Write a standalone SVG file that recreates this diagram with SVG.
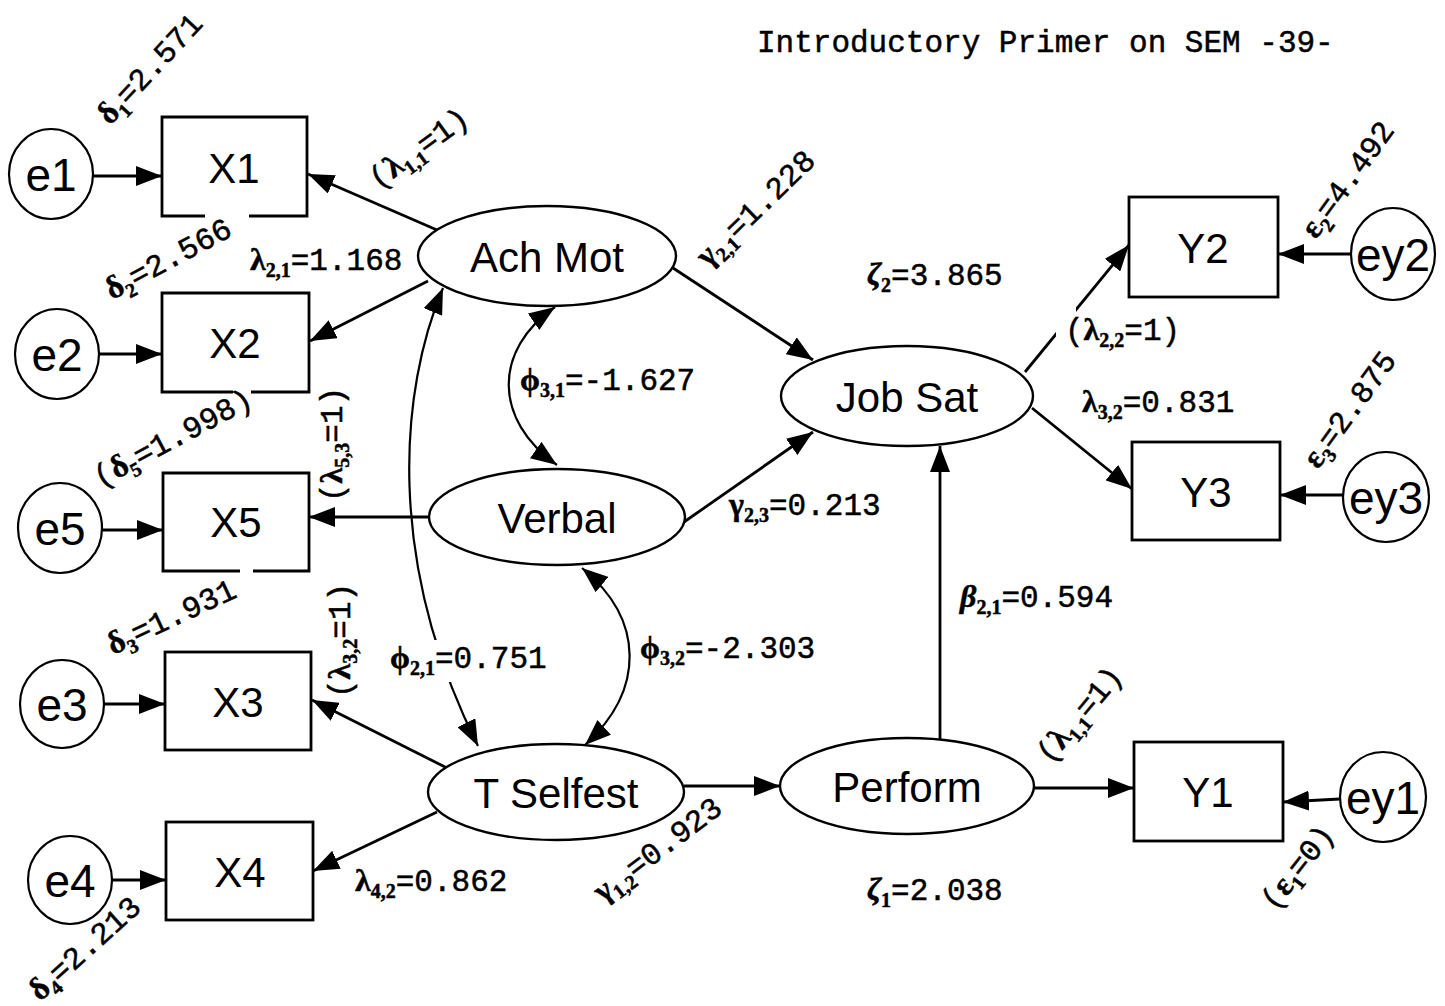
<svg xmlns="http://www.w3.org/2000/svg" width="1445" height="1006" viewBox="0 0 1445 1006">
  <style>
    .box { fill: none; stroke: #000; stroke-width: 2.8; }
    .lat { fill: #fff; stroke: #000; stroke-width: 2.4; }
    .err { fill: #fff; stroke: #000; stroke-width: 2.2; }
    .nl { font-family: "Liberation Sans", Arial, sans-serif; font-size: 42px; text-anchor: middle; fill: #000; }
    .el { font-family: "Liberation Sans", Arial, sans-serif; font-size: 46px; text-anchor: middle; fill: #000; }
    .cn { fill: none; stroke: #000; stroke-width: 2.8; marker-end: url(#ah); }
    .cov { fill: none; stroke: #000; stroke-width: 2.2; marker-start: url(#ah); marker-end: url(#ah); }
    .lb { font-family: "Liberation Mono", "Courier New", monospace; font-size: 31px; fill: #000; stroke: #000; stroke-width: 0.5; }
    .g { font-family: "Liberation Serif", "DejaVu Serif", serif; font-weight: bold; font-size: 32px; }
    .s { font-family: "Liberation Serif", "DejaVu Serif", serif; font-weight: bold; font-size: 20px; }
    .title { font-family: "Liberation Mono", "Courier New", monospace; font-size: 31px; fill: #000; stroke: #000; stroke-width: 0.5; }
  </style>
  <defs>
    <marker id="ah" viewBox="0 0 26 20" refX="26" refY="10" markerWidth="26" markerHeight="20" markerUnits="userSpaceOnUse" orient="auto-start-reverse">
      <path d="M0,0 L26,10 L0,20 z" fill="#000"/>
    </marker>
    <!-- breaks in lines where a label sits on top of them -->
    <mask id="gaps" maskUnits="userSpaceOnUse" x="0" y="0" width="1445" height="1006">
      <rect width="1445" height="1006" fill="#fff"/>
      <rect x="415" y="640" width="40" height="42" fill="#000"/>
      <rect x="1056" y="300" width="20" height="45" fill="#000"/>
    </mask>
  </defs>
  <rect width="1445" height="1006" fill="#fff"/>

  <text class="title" x="757" y="52">Introductory Primer on SEM -39-</text>

  <!-- paths, loadings and covariances -->
  <g id="connectors" mask="url(#gaps)">
    <line class="cn" x1="93" y1="176" x2="162" y2="176"/>
    <line class="cn" x1="99" y1="354" x2="162" y2="354"/>
    <line class="cn" x1="102" y1="530" x2="163" y2="530"/>
    <line class="cn" x1="104" y1="704" x2="165" y2="704"/>
    <line class="cn" x1="112" y1="880" x2="166" y2="880"/>
    <line class="cn" x1="437" y1="230" x2="308" y2="174"/>
    <line class="cn" x1="428" y1="281" x2="310" y2="341"/>
    <line class="cn" x1="429" y1="517" x2="309" y2="517"/>
    <line class="cn" x1="447" y1="768" x2="312" y2="700"/>
    <line class="cn" x1="437" y1="812" x2="313" y2="871"/>
    <line class="cn" x1="673" y1="268" x2="813" y2="360"/>
    <line class="cn" x1="684" y1="522" x2="813" y2="432"/>
    <line class="cn" x1="1025" y1="372" x2="1129" y2="245"/>
    <line class="cn" x1="1032" y1="408" x2="1132" y2="489"/>
    <line class="cn" x1="1351" y1="254" x2="1278" y2="254"/>
    <line class="cn" x1="1343" y1="495" x2="1280" y2="495"/>
    <line class="cn" x1="1340" y1="799" x2="1283" y2="802"/>
    <line class="cn" x1="1034" y1="788" x2="1134" y2="788"/>
    <line class="cn" x1="684" y1="786" x2="780" y2="786"/>
    <line class="cn" x1="940" y1="740" x2="940" y2="446"/>
    <path class="cov" d="M555,307 C493,350 493,420 557,465"/>
    <path class="cov" d="M582,568 C645,620 645,690 585,745"/>
    <path class="cov" d="M443,288 C400,390 385,560 478,746"/>
  </g>

  <!-- error terms -->
  <g id="e1"><ellipse class="err" cx="51" cy="174" rx="42" ry="45"/><text class="el" x="51" y="191">e1</text></g>
  <g id="e2"><ellipse class="err" cx="57" cy="354" rx="42" ry="45"/><text class="el" x="57" y="371">e2</text></g>
  <g id="e5"><ellipse class="err" cx="60" cy="528" rx="42" ry="45"/><text class="el" x="60" y="545">e5</text></g>
  <g id="e3"><ellipse class="err" cx="62" cy="704" rx="42" ry="44"/><text class="el" x="62" y="721">e3</text></g>
  <g id="e4"><ellipse class="err" cx="70" cy="880" rx="42" ry="44"/><text class="el" x="70" y="897">e4</text></g>
  <g id="ey2"><ellipse class="err" cx="1393" cy="254" rx="42" ry="46"/><text class="el" x="1393" y="271">ey2</text></g>
  <g id="ey3"><ellipse class="err" cx="1386" cy="497" rx="43" ry="45"/><text class="el" x="1386" y="514">ey3</text></g>
  <g id="ey1"><ellipse class="err" cx="1383" cy="797" rx="43" ry="45"/><text class="el" x="1383" y="814">ey1</text></g>

  <!-- observed indicators -->
  <g id="X1"><path class="box" d="M205,216 H162 V117 H307 V216 H249"/><text class="nl" x="234" y="183">X1</text></g>
  <g id="X2"><path class="box" d="M233,392 H162 V293 H309 V392 H251"/><text class="nl" x="235" y="358">X2</text></g>
  <g id="X5"><path class="box" d="M240,571 H163 V473 H309 V571 H253"/><text class="nl" x="236" y="537">X5</text></g>
  <g id="X3"><rect class="box" x="165" y="652" width="146" height="98"/><text class="nl" x="238" y="717">X3</text></g>
  <g id="X4"><rect class="box" x="166" y="822" width="147" height="98"/><text class="nl" x="240" y="887">X4</text></g>
  <g id="Y2"><rect class="box" x="1129" y="197" width="149" height="100"/><text class="nl" x="1203" y="263">Y2</text></g>
  <g id="Y3"><rect class="box" x="1132" y="442" width="148" height="98"/><text class="nl" x="1206" y="507">Y3</text></g>
  <g id="Y1"><rect class="box" x="1134" y="742" width="149" height="99"/><text class="nl" x="1208" y="807">Y1</text></g>

  <!-- latent constructs -->
  <g id="AchMot"><ellipse class="lat" cx="547" cy="256" rx="129" ry="50"/><text class="nl" x="547" y="272">Ach Mot</text></g>
  <g id="Verbal"><ellipse class="lat" cx="557" cy="517" rx="128" ry="48"/><text class="nl" x="557" y="533">Verbal</text></g>
  <g id="TSelfest"><ellipse class="lat" cx="556" cy="792" rx="128" ry="48"/><text class="nl" x="556" y="808">T Selfest</text></g>
  <g id="JobSat"><ellipse class="lat" cx="907" cy="396" rx="126" ry="50"/><text class="nl" x="907" y="412">Job Sat</text></g>
  <g id="Perform"><ellipse class="lat" cx="907" cy="786" rx="127" ry="48"/><text class="nl" x="907" y="802">Perform</text></g>

  <!-- parameter estimates -->
  <g id="labels">
    <text class="lb" transform="translate(110,126) rotate(-47)"><tspan class="g">δ</tspan><tspan class="s" dy="7">1</tspan><tspan dy="-7">=2.571</tspan></text>
    <text class="lb" transform="translate(378,190) rotate(-36)">(<tspan class="g">λ</tspan><tspan class="s" dy="7">1,1</tspan><tspan dy="-7">=1)</tspan></text>
    <text class="lb" transform="translate(112,300) rotate(-28)"><tspan class="g">δ</tspan><tspan class="s" dy="7">2</tspan><tspan dy="-7">=2.566</tspan></text>
    <text class="lb" x="250" y="270"><tspan class="g">λ</tspan><tspan class="s" dy="7">2,1</tspan><tspan dy="-7">=1.168</tspan></text>
    <text class="lb" transform="translate(100,488) rotate(-28)">(<tspan class="g">δ</tspan><tspan class="s" dy="7">5</tspan><tspan dy="-7">=1.998)</tspan></text>
    <text class="lb" transform="translate(342,502) rotate(-90)">(<tspan class="g">λ</tspan><tspan class="s" dy="7">5,3</tspan><tspan dy="-7">=1)</tspan></text>
    <text class="lb" transform="translate(113,655) rotate(-25)"><tspan class="g">δ</tspan><tspan class="s" dy="7">3</tspan><tspan dy="-7">=1.931</tspan></text>
    <text class="lb" transform="translate(350,698) rotate(-90)">(<tspan class="g">λ</tspan><tspan class="s" dy="7">3,2</tspan><tspan dy="-7">=1)</tspan></text>
    <text class="lb" x="390" y="668"><tspan class="g">ϕ</tspan><tspan class="s" dy="7">2,1</tspan><tspan dy="-7">=0.751</tspan></text>
    <text class="lb" x="355" y="891"><tspan class="g">λ</tspan><tspan class="s" dy="7">4,2</tspan><tspan dy="-7">=0.862</tspan></text>
    <text class="lb" transform="translate(40,1002) rotate(-42)"><tspan class="g">δ</tspan><tspan class="s" dy="7">4</tspan><tspan dy="-7">=2.213</tspan></text>
    <text class="lb" x="520" y="390"><tspan class="g">ϕ</tspan><tspan class="s" dy="7">3,1</tspan><tspan dy="-7">=-1.627</tspan></text>
    <text class="lb" transform="translate(708,268) rotate(-44)"><tspan class="g">γ</tspan><tspan class="s" dy="7">2,1</tspan><tspan dy="-7">=1.228</tspan></text>
    <text class="lb" x="729" y="515"><tspan class="g">γ</tspan><tspan class="s" dy="7">2,3</tspan><tspan dy="-7">=0.213</tspan></text>
    <text class="lb" x="867" y="285"><tspan class="g" font-style="italic">ζ</tspan><tspan class="s" dy="7">2</tspan><tspan dy="-7">=3.865</tspan></text>
    <text class="lb" x="1065" y="340">(<tspan class="g">λ</tspan><tspan class="s" dy="7">2,2</tspan><tspan dy="-7">=1)</tspan></text>
    <text class="lb" x="1082" y="412"><tspan class="g">λ</tspan><tspan class="s" dy="7">3,2</tspan><tspan dy="-7">=0.831</tspan></text>
    <text class="lb" transform="translate(1316,240) rotate(-54)"><tspan class="g">ε</tspan><tspan class="s" dy="7">2</tspan><tspan dy="-7">=4.492</tspan></text>
    <text class="lb" transform="translate(1318,470) rotate(-54)"><tspan class="g">ε</tspan><tspan class="s" dy="7">3</tspan><tspan dy="-7">=2.875</tspan></text>
    <text class="lb" x="960" y="607"><tspan class="g" font-style="italic">β</tspan><tspan class="s" dy="7">2,1</tspan><tspan dy="-7">=0.594</tspan></text>
    <text class="lb" x="640" y="658"><tspan class="g">ϕ</tspan><tspan class="s" dy="7">3,2</tspan><tspan dy="-7">=-2.303</tspan></text>
    <text class="lb" transform="translate(603,903) rotate(-37)"><tspan class="g">γ</tspan><tspan class="s" dy="7">1,2</tspan><tspan dy="-7">=0.923</tspan></text>
    <text class="lb" x="867" y="900"><tspan class="g" font-style="italic">ζ</tspan><tspan class="s" dy="7">1</tspan><tspan dy="-7">=2.038</tspan></text>
    <text class="lb" transform="translate(1050,765) rotate(-50)">(<tspan class="g">λ</tspan><tspan class="s" dy="7">1,1</tspan><tspan dy="-7">=1)</tspan></text>
    <text class="lb" transform="translate(1275,912) rotate(-52)">(<tspan class="g">ε</tspan><tspan class="s" dy="7">1</tspan><tspan dy="-7">=0)</tspan></text>
  </g>
</svg>
